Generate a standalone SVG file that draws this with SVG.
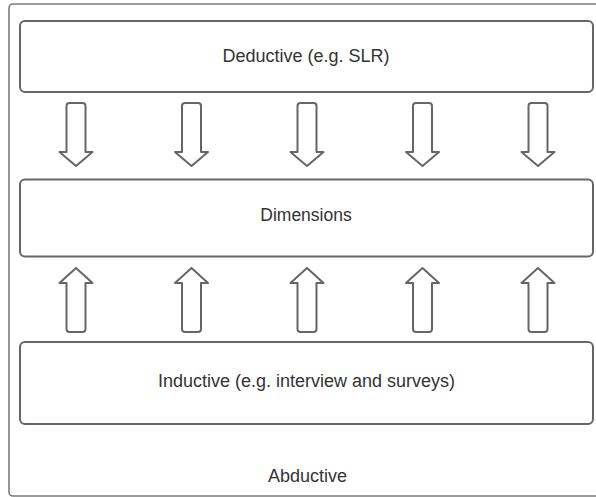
<svg xmlns="http://www.w3.org/2000/svg" width="596" height="497" viewBox="0 0 596 497">
<style>
.frame{fill:#fff;stroke:#7a7a7a;stroke-width:1.6}
.box{fill:#fff;stroke:#666;stroke-width:2}
.arrow{fill:#fff;stroke:#666;stroke-width:2;stroke-linejoin:round}
.t{font-family:"Liberation Sans",Arial,sans-serif;font-size:18px;fill:#333;text-anchor:middle}
</style>
<defs>
<path id="down" d="M -9.5 106 Q -9.5 103 -6.5 103 L 6.5 103 Q 9.5 103 9.5 106 L 9.5 152 L 16.5 152 L 0 166 L -16.5 152 L -9.5 152 Z"/>
<path id="up" d="M 0 268 L 16.5 283 L 9.5 283 L 9.5 329 Q 9.5 332 6.5 332 L -6.5 332 Q -9.5 332 -9.5 329 L -9.5 283 L -16.5 283 Z"/>
</defs>
<g id="abductive">
<rect class="frame" x="9" y="4" width="600" height="492" rx="4"/>
<text class="t" x="307.5" y="482">Abductive</text>
</g>
<g id="deductive">
<rect class="box" x="20" y="21" width="573" height="71" rx="5"/>
<text class="t" x="306" y="61.5">Deductive (e.g. SLR)</text>
</g>
<g id="dimensions">
<rect class="box" x="20" y="179.5" width="573" height="77" rx="5"/>
<text class="t" x="306" y="221" style="font-size:17.5px">Dimensions</text>
</g>
<g id="inductive">
<rect class="box" x="20" y="342" width="573" height="82" rx="5"/>
<text class="t" x="306.5" y="387">Inductive (e.g. interview and surveys)</text>
</g>
<g id="connectors">
<use href="#down" class="arrow" transform="translate(76,0)"/>
<use href="#down" class="arrow" transform="translate(191.5,0)"/>
<use href="#down" class="arrow" transform="translate(307,0)"/>
<use href="#down" class="arrow" transform="translate(422.5,0)"/>
<use href="#down" class="arrow" transform="translate(538,0)"/>
<use href="#up" class="arrow" transform="translate(76,0)"/>
<use href="#up" class="arrow" transform="translate(191.5,0)"/>
<use href="#up" class="arrow" transform="translate(307,0)"/>
<use href="#up" class="arrow" transform="translate(422.5,0)"/>
<use href="#up" class="arrow" transform="translate(538,0)"/>
</g>
</svg>
